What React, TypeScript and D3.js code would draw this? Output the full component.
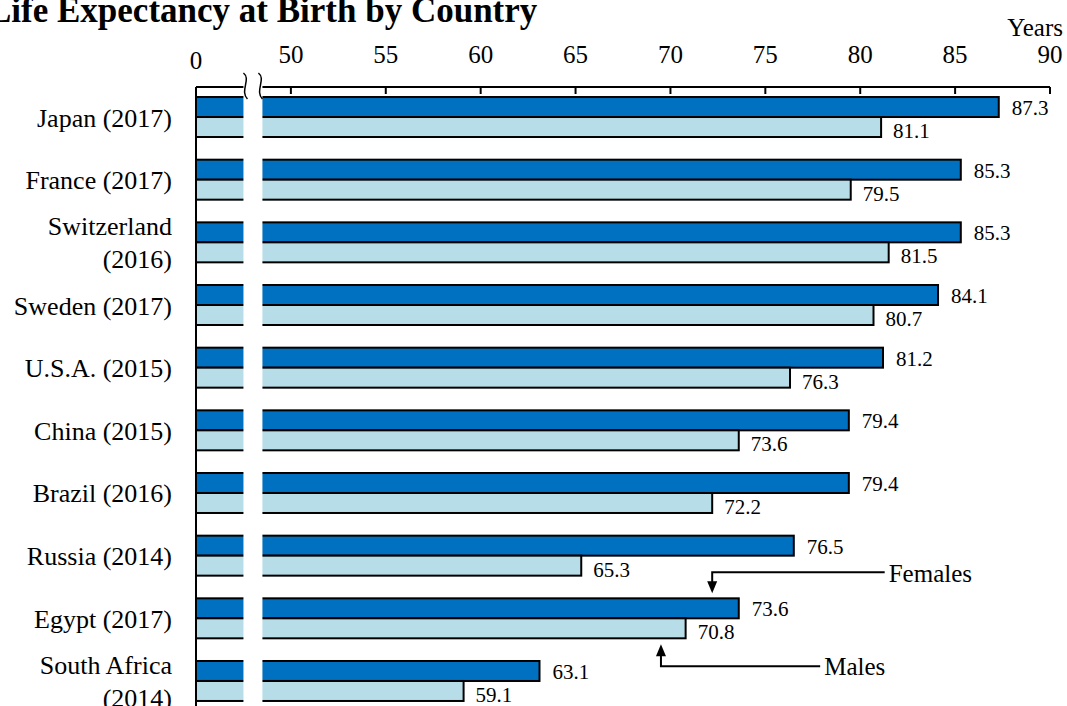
import { scaleBand, scaleLinear } from "d3";

const countries = [
  "Japan (2017)",
  "France (2017)",
  "Switzerland (2016)",
  "Sweden (2017)",
  "U.S.A. (2015)",
  "China (2015)",
  "Brazil (2016)",
  "Russia (2014)",
  "Egypt (2017)",
  "South Africa (2014)",
];
const countryLines = [
  ["Japan (2017)"],
  ["France (2017)"],
  ["Switzerland", "(2016)"],
  ["Sweden (2017)"],
  ["U.S.A. (2015)"],
  ["China (2015)"],
  ["Brazil (2016)"],
  ["Russia (2014)"],
  ["Egypt (2017)"],
  ["South Africa", "(2014)"],
];
const females = [87.3, 85.3, 85.3, 84.1, 81.2, 79.4, 79.4, 76.5, 73.6, 63.1];
const males = [81.1, 79.5, 81.5, 80.7, 76.3, 73.6, 72.2, 65.3, 70.8, 59.1];
const tickValues = [50, 55, 60, 65, 70, 75, 80, 85, 90];
const breakRange = [47.5, 48.5];

const FEMALE = "#0070C0";
const MALE = "#B7DDE8";
const FONT = "'Liberation Serif', 'Times New Roman', serif";

export default function App() {
  const width = 1067;
  const height = 706;
  const axisY = 87;

  const x = scaleLinear().domain([45, 90]).range([196, 1050]);
  const y = scaleBand<string>().domain(countries).range([axisY, 711]).paddingInner(0.362).paddingOuter(0.16);
  const sex = scaleBand<string>().domain(["f", "m"]).range([0, y.bandwidth()]);
  const bh = sex.bandwidth();
  const x0 = x(45);
  const gapL = x(breakRange[0]);
  const gapR = x(breakRange[1]);

  const egyptTop = y("Egypt (2017)") ?? 0;
  const egyptBottom = egyptTop + y.bandwidth();
  const fArrowX = x(72.2);
  const fLabelX = x(81.5);
  const mArrowX = x(69.5);
  const mLabelX = x(78.1);

  const wiggle = (cx: number) =>
    `M${cx - 2},${axisY - 14} C${cx + 6},${axisY - 8} ${cx - 6},${axisY + 4} ${cx + 2},${axisY + 12}`;

  return (
    <svg width={width} height={height} style={{ position: "absolute", left: 0, top: 0 }} fontFamily={FONT}>
      <rect width={width} height={height} fill="#fff" />
      <text x={-12} y={22} fontSize={35} fontWeight="bold">
        Life Expectancy at Birth by Country
      </text>

      {/* bars */}
      {countries.map((c, i) => {
        const top = y(c) ?? 0;
        const fy = top + (sex("f") ?? 0);
        const my = top + (sex("m") ?? 0);
        return (
          <g key={c}>
            <rect x={x0} y={fy} width={x(females[i]) - x0} height={bh} fill={FEMALE} stroke="#000" strokeWidth={2} />
            <rect x={x0} y={my} width={x(males[i]) - x0} height={bh} fill={MALE} stroke="#000" strokeWidth={2} />
            <text x={x(females[i]) + 13} y={fy + bh / 2 + 1} fontSize={21} dominantBaseline="central">
              {females[i].toFixed(1)}
            </text>
            <text x={x(males[i]) + 12} y={my + bh / 2 + 4} fontSize={21} dominantBaseline="central">
              {males[i].toFixed(1)}
            </text>
            {countryLines[i].map((line, j) => (
              <text
                key={j}
                x={172}
                y={top + y.bandwidth() / 2 + 1 + (j - (countryLines[i].length - 1) / 2) * 33}
                fontSize={26}
                textAnchor="end"
                dominantBaseline="central"
              >
                {line}
              </text>
            ))}
          </g>
        );
      })}

      {/* axis break gap */}
      <rect x={gapL} y={axisY - 16} width={gapR - gapL} height={height} fill="#fff" />

      {/* top axis */}
      <line x1={x0} x2={gapL} y1={axisY} y2={axisY} stroke="#000" strokeWidth={2} />
      <line x1={gapR} x2={x(90)} y1={axisY} y2={axisY} stroke="#000" strokeWidth={2} />
      <line x1={x0} x2={x0} y1={axisY} y2={height + 10} stroke="#000" strokeWidth={2} />
      {tickValues.map((t) => (
        <g key={t}>
          <line x1={x(t)} x2={x(t)} y1={axisY} y2={axisY + 7} stroke="#000" strokeWidth={2} />
          <text x={x(t)} y={63} fontSize={25} textAnchor="middle">
            {t}
          </text>
        </g>
      ))}
      <text x={x0} y={69} fontSize={25} textAnchor="middle">
        0
      </text>
      <text x={1063} y={36} fontSize={25} textAnchor="end">
        Years
      </text>
      <path d={wiggle(gapL + 2)} fill="none" stroke="#000" strokeWidth={1.5} />
      <path d={wiggle(gapR - 2)} fill="none" stroke="#000" strokeWidth={1.5} />

      {/* annotations */}
      <path
        d={`M${fLabelX - 4},${egyptTop - 26} H${fArrowX} V${egyptTop - 16}`}
        fill="none"
        stroke="#000"
        strokeWidth={2}
      />
      <path
        d={`M${fArrowX - 5},${egyptTop - 17} L${fArrowX + 5},${egyptTop - 17} L${fArrowX},${egyptTop - 5} Z`}
        fill="#000"
      />
      <text x={fLabelX} y={egyptTop - 25} fontSize={25} dominantBaseline="central">
        Females
      </text>
      <path
        d={`M${mLabelX - 4},${egyptBottom + 28} H${mArrowX} V${egyptBottom + 17}`}
        fill="none"
        stroke="#000"
        strokeWidth={2}
      />
      <path
        d={`M${mArrowX - 5},${egyptBottom + 18} L${mArrowX + 5},${egyptBottom + 18} L${mArrowX},${egyptBottom + 6} Z`}
        fill="#000"
      />
      <text x={mLabelX} y={egyptBottom + 28} fontSize={25} dominantBaseline="central">
        Males
      </text>
    </svg>
  );
}
